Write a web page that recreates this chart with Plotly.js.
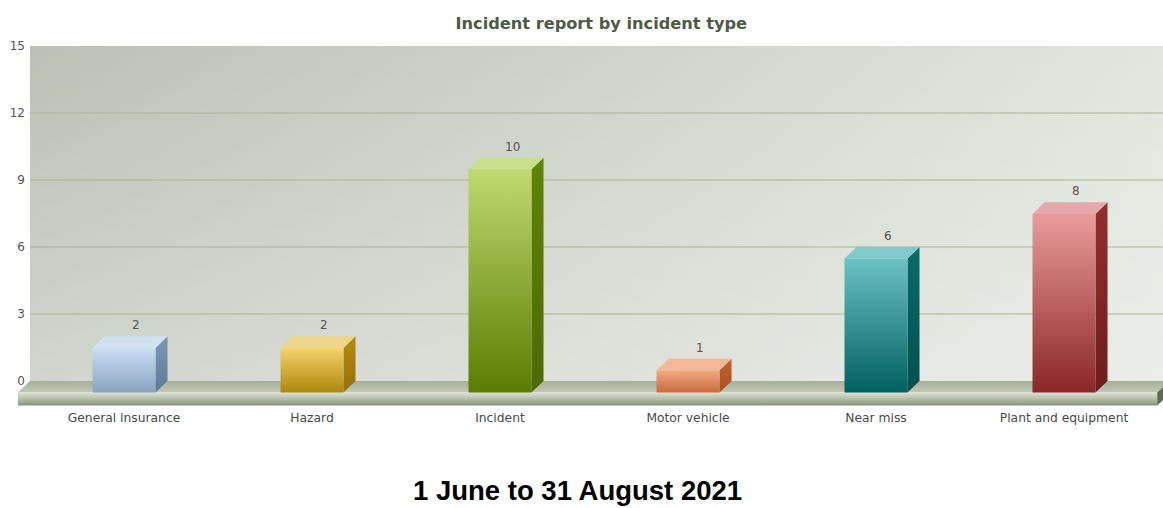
<!DOCTYPE html>
<html>
<head>
<meta charset="utf-8">
<script src="https://cdn.plot.ly/plotly-3.0.1.min.js"></script>
<style>
  html, body { margin: 0; padding: 0; background: #ffffff; }
  #chart { width: 1163px; height: 508px; }
</style>
</head>
<body>
<div id="chart"></div>
<script>
// ---- data ----
const categories = ['General insurance', 'Hazard', 'Incident', 'Motor vehicle', 'Near miss', 'Plant and equipment'];
const counts = [2, 2, 10, 1, 6, 8];
const yTicks = [0, 3, 6, 9, 12, 15];
const gridValues = [3, 6, 9, 12];
const chartTitle = 'Incident report by incident type';
const subTitle = '1 June to 31 August 2021';

// ---- styles ----
const frontTop    = ['#cadef4', '#f6d46c', '#bfda70', '#f3aa84', '#6cc3c6', '#ea9c9c'];
const frontBottom = ['#8aa3bf', '#ad870c', '#5b7c00', '#c96a3c', '#005f5f', '#8a2626'];
const sideTop     = ['#7d97b5', '#b58c10', '#5f8400', '#c2622e', '#0a6b6b', '#922e2e'];
const sideBottom  = ['#5e7896', '#94700a', '#4c6a00', '#a8501f', '#004f4f', '#6f1c1c'];
const topFace     = ['#d2e1f2', '#eed68a', '#c8e08c', '#f3b898', '#80c9cc', '#e6a8a8'];

const hw = 0.1675;   // half front width (x units)
const dx = 0.064;    // depth offset x
const dy = 0.52;     // depth offset y
const xMin = -0.5691, xMax = 5.5266;
const wallLeft = -0.5, wallRight = 5.56;
const floorBottom = -1.1;

function poly(xs, ys, grad, extra) {
  return Object.assign({
    type: 'scatter', mode: 'lines', x: xs.concat([xs[0]]), y: ys.concat([ys[0]]),
    fill: 'toself', line: { width: 0 }, hoverinfo: 'skip', showlegend: false,
    fillgradient: grad
  }, extra || {});
}

const traces = [];

// back wall (horizontal gradient) + vertical light overlay
traces.push(poly([wallLeft, wallRight, wallRight, wallLeft], [0, 0, 15, 15],
  { type: 'horizontal', colorscale: [[0, '#bbc1b5'], [1, '#e2e6de']] }));
traces.push(poly([wallLeft, wallRight, wallRight, wallLeft], [0, 0, 15, 15],
  { type: 'vertical', colorscale: [[0, 'rgba(255,255,255,0.33)'], [1, 'rgba(255,255,255,0)']] }));

// grid lines
const gx = [], gy = [];
gridValues.forEach(v => { gx.push(wallLeft, wallRight, null); gy.push(v, v, null); });
traces.push({ type: 'scatter', mode: 'lines', x: gx, y: gy, line: { color: '#a9b490', width: 1 },
  hoverinfo: 'skip', showlegend: false });

// floor: top surface, front face, right side
traces.push(poly([wallLeft - dx, wallRight - dx, wallRight, wallLeft], [-dy, -dy, 0, 0],
  { type: 'vertical', colorscale: [[0, '#c3c9b8'], [1, '#a6af9a']] }));
traces.push(poly([wallLeft - dx, wallRight - dx, wallRight - dx, wallLeft - dx], [floorBottom, floorBottom, -dy, -dy],
  { type: 'vertical', colorscale: [[0, '#87937d'], [0.55, '#b9c0ad'], [1, '#dde1d5']] }));
traces.push(poly([wallRight - dx, wallRight, wallRight, wallRight - dx], [-dy, 0, floorBottom + dy, floorBottom],
  { type: 'none' }, { fillcolor: '#5d6a52' }));

// bars
counts.forEach((v, i) => {
  const c = i;
  const l = c - hw, r = c + hw;
  // side face
  traces.push(poly([r, r + dx, r + dx, r], [-dy, 0, v, v - dy],
    { type: 'vertical', colorscale: [[0, sideBottom[i]], [1, sideTop[i]]] }));
  // top face
  traces.push(poly([l, r, r + dx, l + dx], [v - dy, v - dy, v, v],
    { type: 'none' }, { fillcolor: topFace[i] }));
  // front face
  traces.push(poly([l, r, r, l], [-dy, -dy, v - dy, v - dy],
    { type: 'vertical', colorscale: [[0, frontBottom[i]], [1, frontTop[i]]] }));
});

// dummy trace for the tick-label axis
traces.push({ type: 'scatter', x: [0], y: [0], yaxis: 'y2', mode: 'markers',
  marker: { opacity: 0 }, hoverinfo: 'skip', showlegend: false });

const annotations = counts.map((v, i) => ({
  x: i + dx, y: v, xref: 'x', yref: 'y', text: String(v), showarrow: false,
  yshift: 11, yanchor: 'middle',
  font: { family: 'DejaVu Sans', size: 12, color: '#555555' }
}));
annotations.push({
  xref: 'paper', yref: 'paper', x: 0.4887, y: -0.2833, text: '<b>' + subTitle + '</b>',
  showarrow: false, xanchor: 'center', yanchor: 'bottom',
  font: { family: 'Liberation Sans, Arial, sans-serif', size: 27.5, color: '#000000' }
});

const layout = {
  width: 1163, height: 508,
  margin: { l: 17, r: 0, t: 46, b: 102, pad: 0 },
  paper_bgcolor: '#ffffff', plot_bgcolor: '#ffffff',
  showlegend: false,
  title: {
    text: '<b>' + chartTitle + '</b>', x: 0.517, xanchor: 'center', y: 0.955, yanchor: 'middle',
    font: { family: 'DejaVu Sans', size: 16.2, color: '#4f5a47' }
  },
  xaxis: {
    range: [xMin, xMax], tickmode: 'array', tickvals: categories.map((_, i) => i), ticktext: categories,
    showgrid: false, zeroline: false, showline: false, ticks: '', ticklabelstandoff: 3,
    tickfont: { family: 'DejaVu Sans', size: 12.3, color: '#4a4a4a' }, fixedrange: true
  },
  yaxis: {
    range: [floorBottom - 0.02, 15], showticklabels: false, showgrid: false, zeroline: false,
    showline: false, ticks: '', fixedrange: true
  },
  yaxis2: {
    overlaying: 'y', anchor: 'free', position: 0.01134, side: 'left',
    range: [floorBottom - 0.02, 15], tickmode: 'array', tickvals: yTicks, ticktext: yTicks.map(String),
    showgrid: false, zeroline: false, showline: false, ticks: '', ticklabelstandoff: 5,
    tickfont: { family: 'DejaVu Sans', size: 12, color: '#555555' }, fixedrange: true
  },
  annotations: annotations
};

Plotly.newPlot('chart', traces, layout, { displayModeBar: false, staticPlot: true });
</script>
</body>
</html>
